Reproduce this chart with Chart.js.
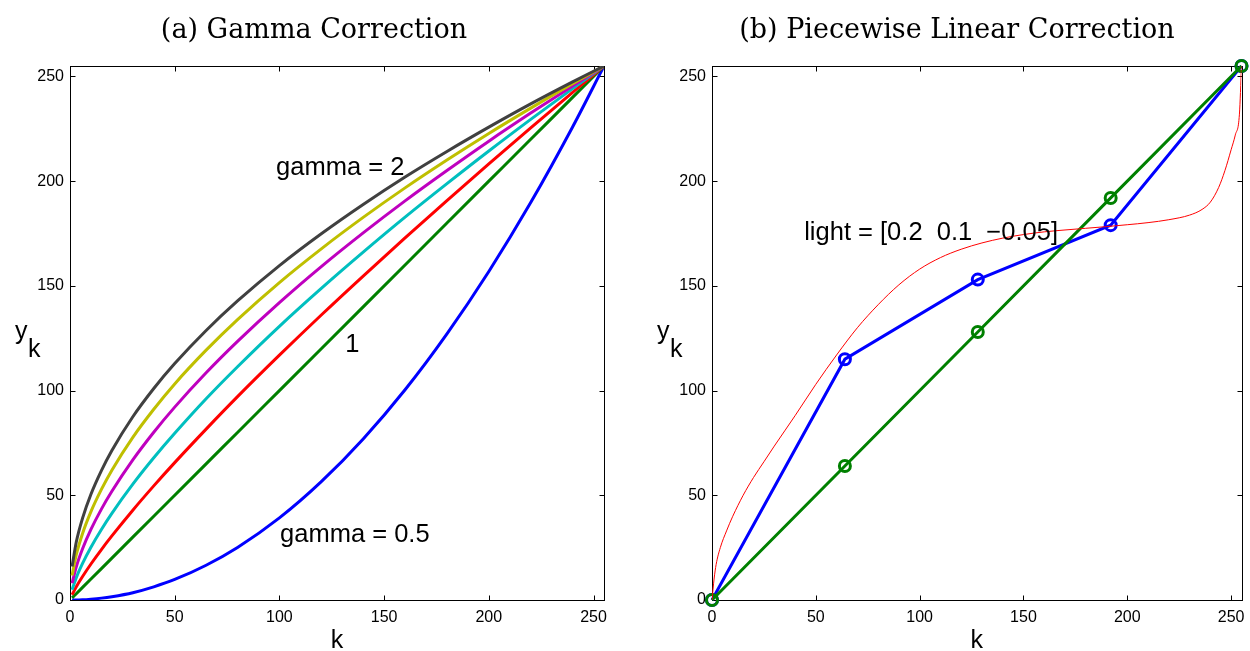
<!DOCTYPE html>
<html>
<head>
<meta charset="utf-8">
<script src="https://cdn.jsdelivr.net/npm/chart.js@4.4.0/dist/chart.umd.min.js"></script>
<style>
  body { margin: 0; background: #fff; }
  #wrap { position: relative; width: 1250px; height: 651px; overflow: hidden; }
  #gammaChart { position: absolute; left: 0; top: 0; }
  #pwlChart { position: absolute; left: 640px; top: 0; }
</style>
</head>
<body>
<div id="wrap">
  <canvas id="gammaChart" width="640" height="651"></canvas>
  <canvas id="pwlChart" width="610" height="651"></canvas>
</div>
<script>
// gamma curves, sampled along k
const kGamma = [1, 3, 6, 10, 15, 20, 30, 40, 50, 65, 80, 100, 120, 140, 160, 180, 200, 220, 240, 255];
const yGamma20 = [16.0, 27.7, 39.1, 50.5, 61.8, 71.4, 87.5, 101.0, 112.9, 128.7, 142.8, 159.7, 174.9, 188.9, 202.0, 214.2, 225.8, 236.9, 247.4, 255];
const yGamma18 = [11.7, 21.6, 31.8, 42.2, 52.8, 62.0, 77.7, 91.1, 103.2, 119.3, 133.9, 151.6, 167.7, 182.7, 196.8, 210.1, 222.8, 234.9, 246.6, 255];
const yGamma16 = [8.0, 15.9, 24.5, 33.7, 43.4, 51.9, 66.9, 80.1, 92.1, 108.5, 123.5, 142.0, 159.2, 175.3, 190.6, 205.1, 219.1, 232.5, 245.5, 255];
const yGamma14 = [4.9, 10.7, 17.5, 25.2, 33.7, 41.4, 55.3, 67.9, 79.6, 96.1, 111.4, 130.7, 148.8, 166.1, 182.8, 198.8, 214.4, 229.5, 244.2, 255];
const yGamma12 = [2.5, 6.3, 11.2, 17.2, 24.1, 30.6, 42.9, 54.5, 65.6, 81.6, 97.1, 116.9, 136.1, 154.7, 172.9, 190.7, 208.3, 225.5, 242.4, 255];
const yGamma10 = [1, 3, 6, 10, 15, 20, 30, 40, 50, 65, 80, 100, 120, 140, 160, 180, 200, 220, 240, 255];
const yGamma05 = [0, 0, 0.1, 0.4, 0.9, 1.6, 3.5, 6.3, 9.8, 16.6, 25.1, 39.2, 56.5, 76.9, 100.4, 127.1, 156.9, 189.8, 225.9, 255];

// piecewise linear correction: breakpoints
const kBreaks = [0, 64, 128, 192, 255];
const yIdentity = [0, 64, 128, 192, 255];
const yPiecewise = [0, 115, 153, 179, 255];

// smooth lighting correction curve
const kLight = [0, 1, 2, 4, 7, 10, 15, 20, 25, 30, 40, 50, 60, 70, 80, 90, 100, 110, 120, 130, 140, 150, 160, 170, 180, 190, 200, 210, 220, 230, 236, 240, 244, 247, 250, 252, 254, 255];
const yLight = [0, 10, 17, 25, 33, 40, 50, 58.5, 66, 73.5, 88, 103, 117, 130, 141, 150.5, 158, 163.5, 167.5, 170.5, 172.8, 174.5, 175.8, 176.7, 177.5, 178.3, 179.2, 180.2, 181.6, 183.8, 186.5, 190, 197, 205, 215, 222, 232, 255];

const axisTicks = [0, 50, 100, 150, 200, 250];

const SANS = '"Liberation Sans", Arial, Helvetica, sans-serif';
const SERIF = '"DejaVu Serif", serif';

const pts = (xs, ys) => xs.map((x, i) => ({ x: x, y: ys[i] }));

// box around the axes with inward tick marks on all four sides
const boxTicks = {
  id: 'boxTicks',
  beforeDatasetsDraw(chart) {
    const { ctx, chartArea: a, scales: { x, y } } = chart;
    const L = Math.round(a.left) + 0.5, R = Math.round(a.right) + 0.5;
    const T = Math.round(a.top) + 0.5, B = Math.round(a.bottom) + 0.5;
    ctx.save();
    ctx.strokeStyle = '#000';
    ctx.lineWidth = 1;
    ctx.strokeRect(L, T, R - L, B - T);
    ctx.beginPath();
    axisTicks.forEach(v => {
      const px = Math.round(x.getPixelForValue(v)) + 0.5;
      ctx.moveTo(px, B); ctx.lineTo(px, B - 5);
      ctx.moveTo(px, T); ctx.lineTo(px, T + 5);
      const py = Math.round(y.getPixelForValue(v)) + 0.5;
      ctx.moveTo(L, py); ctx.lineTo(L + 5, py);
      ctx.moveTo(R, py); ctx.lineTo(R - 5, py);
    });
    ctx.stroke();
    ctx.restore();
  }
};

// panel title, y_k label and in-plot notes
const panelText = {
  id: 'panelText',
  afterDraw(chart, args, opts) {
    const { ctx, chartArea: a, scales: { x, y } } = chart;
    ctx.save();
    ctx.fillStyle = '#000';
    ctx.textBaseline = 'alphabetic';
    ctx.font = '27px ' + SERIF;
    ctx.textAlign = 'center';
    ctx.fillText(opts.title, opts.titleX, 38);
    ctx.textAlign = 'left';
    ctx.font = '25px ' + SANS;
    ctx.fillText('y', a.left - 55, 339);
    ctx.fillText('k', a.left - 42, 357);
    ctx.font = '25.5px ' + SANS;
    (opts.notes || []).forEach(n => {
      ctx.fillText(n.text, x.getPixelForValue(n.k), y.getPixelForValue(n.v));
    });
    ctx.restore();
  }
};

// pin the axis boxes so both plot areas sit at the same place
const noEdgePadding = s => {
  s.paddingLeft = 0; s.paddingRight = 0; s.paddingTop = 0; s.paddingBottom = 0;
};

function axisOptions(yWidth, rightPad, title, titleX, notes) {
  return {
    responsive: false,
    animation: false,
    devicePixelRatio: 1,
    layout: { padding: { top: 66, left: 0, right: rightPad, bottom: 0 } },
    plugins: {
      legend: { display: false },
      tooltip: { enabled: false },
      panelText: { title: title, titleX: titleX, notes: notes }
    },
    elements: { point: { radius: 0 } },
    scales: {
      x: {
        type: 'linear',
        min: 0,
        max: 255,
        grid: { display: false, drawTicks: false },
        border: { display: false },
        afterFit: s => { s.height = 51; noEdgePadding(s); },
        afterBuildTicks: s => { s.ticks = axisTicks.map(v => ({ value: v })); },
        ticks: { color: '#000', padding: 8, font: { family: SANS, size: 16 } },
        title: { display: true, text: 'k', color: '#000', font: { family: SANS, size: 25, lineHeight: 0.8 }, padding: 0 }
      },
      y: {
        type: 'linear',
        min: 0,
        max: 255,
        grid: { display: false, drawTicks: false },
        border: { display: false },
        afterFit: s => { s.width = yWidth; noEdgePadding(s); },
        afterBuildTicks: s => { s.ticks = axisTicks.map(v => ({ value: v })); },
        ticks: { color: '#000', padding: 6, font: { family: SANS, size: 16 } }
      }
    }
  };
}

const curve = (data, color) => ({
  data: data,
  borderColor: color,
  borderWidth: 3,
  cubicInterpolationMode: 'monotone',
  fill: false
});

new Chart(document.getElementById('gammaChart').getContext('2d'), {
  type: 'line',
  data: {
    datasets: [
      curve(pts(kGamma, yGamma20), '#404040'),
      curve(pts(kGamma, yGamma18), '#bfbf00'),
      curve(pts(kGamma, yGamma16), '#bf00bf'),
      curve(pts(kGamma, yGamma14), '#00bfbf'),
      curve(pts(kGamma, yGamma12), '#ff0000'),
      curve(pts(kGamma, yGamma10), '#008000'),
      curve(pts(kGamma, yGamma05), '#0000ff')
    ]
  },
  options: axisOptions(70, 36, '(a) Gamma Correction', 314, [
    { text: 'gamma = 2', k: 98.4, v: 203 },
    { text: '1', k: 131.4, v: 118.5 },
    { text: 'gamma = 0.5', k: 100.3, v: 27.7 }
  ]),
  plugins: [boxTicks, panelText]
});

const marked = (data, color) => ({
  data: data,
  borderColor: color,
  borderWidth: 3,
  tension: 0,
  clip: false,
  pointRadius: 5.5,
  pointStyle: 'circle',
  pointBorderWidth: 3,
  pointBorderColor: color,
  pointBackgroundColor: 'rgba(0,0,0,0)',
  fill: false
});

new Chart(document.getElementById('pwlChart').getContext('2d'), {
  type: 'line',
  data: {
    datasets: [
      {
        data: pts(kLight, yLight),
        borderColor: '#ff0000',
        borderWidth: 1,
        cubicInterpolationMode: 'monotone',
        fill: false
      },
      marked(pts(kBreaks, yIdentity), '#008000'),
      marked(pts(kBreaks, yPiecewise), '#0000ff')
    ]
  },
  options: axisOptions(72, 4, '(b) Piecewise Linear Correction', 317, [
    { text: 'light = [0.2  0.1  \u22120.05]', k: 44.4, v: 172 }
  ]),
  plugins: [boxTicks, panelText]
});
</script>
</body>
</html>
